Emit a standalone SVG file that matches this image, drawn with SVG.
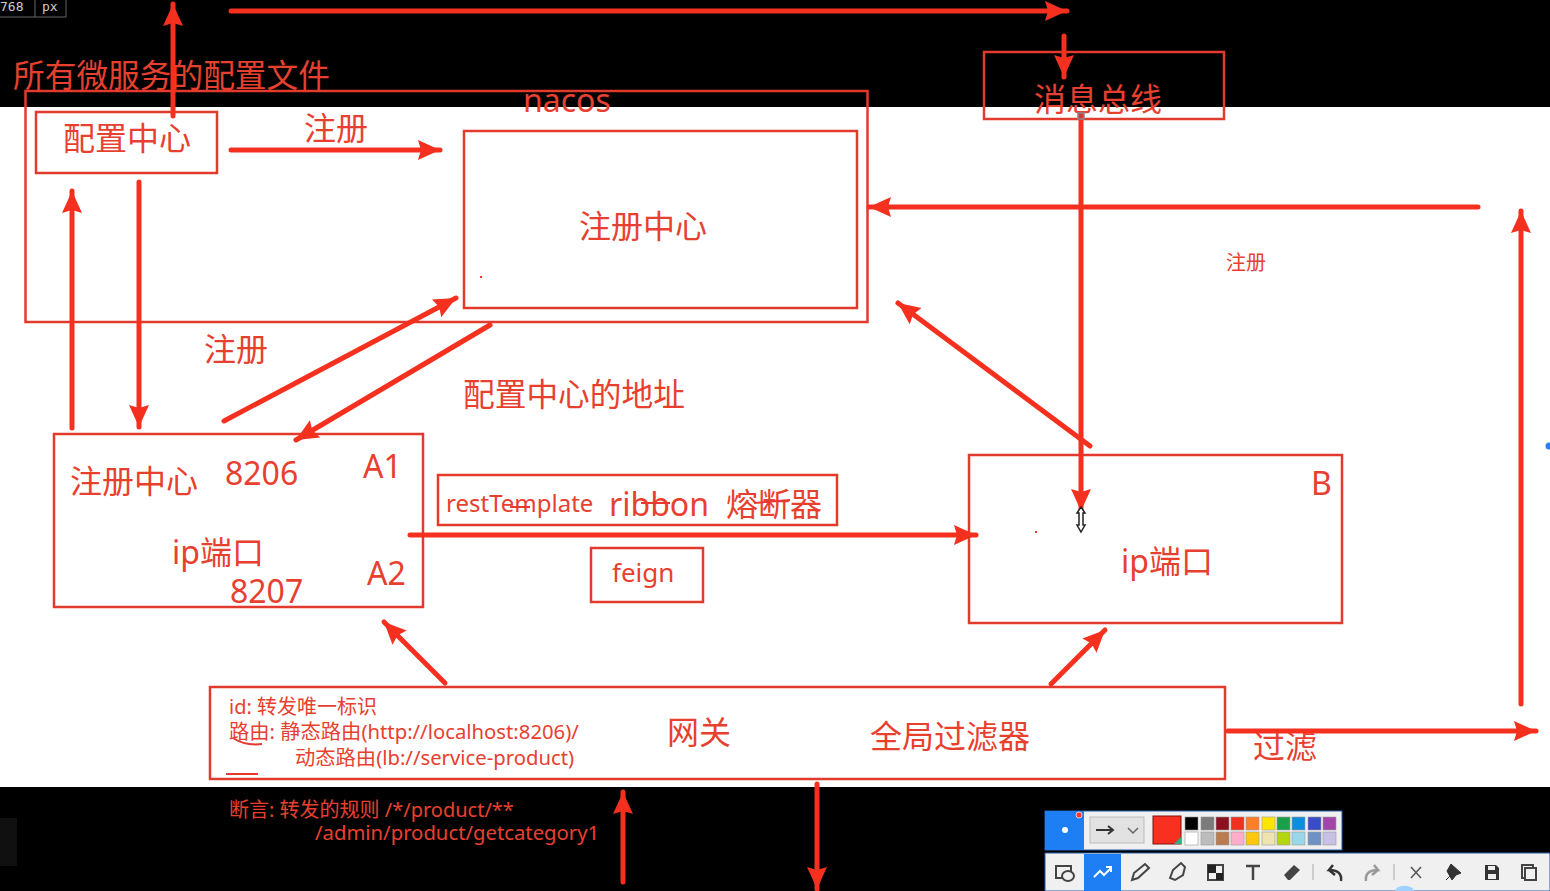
<svg xmlns="http://www.w3.org/2000/svg" width="1550" height="891" viewBox="0 0 1550 891">
<style>
text{font-family:"Noto Sans","Noto Sans CJK SC",sans-serif;fill:#e8402f}
.l{font-size:32px}.s{font-size:20px}.t{font-size:20.3px}
.box{fill:none;stroke:#e23b2e;stroke-width:2.5}
.arr{fill:none;stroke:#f5301f;stroke-width:5;stroke-linecap:round;marker-end:url(#ah)}
.ln{fill:none;stroke:#e8392f;stroke-width:2}
.ic{fill:none;stroke:#444;stroke-width:2}
</style>
<defs>
<marker id="ah" markerUnits="userSpaceOnUse" markerWidth="23" markerHeight="22" refX="22" refY="11" orient="auto" viewBox="0 0 23 22"><path d="M0,1 L22,11 L0,21 L3,11 Z" fill="#f5301f"/></marker>
</defs>
<rect id="background" width="1550" height="891" fill="#fff"/>
<rect x="0" y="0" width="1550" height="107" fill="#000"/>
<rect x="0" y="787" width="1550" height="104" fill="#000"/>
<rect x="0" y="818" width="17" height="48" fill="#101010"/>
<circle cx="1549" cy="446" r="3.500" fill="#2f80ed"/>

<g id="size-readout">
<rect x="-2" y="-2" width="68" height="19" fill="none" stroke="#666"/>
<line x1="35" y1="0" x2="35" y2="17" stroke="#666"/>
<text x="0" y="11" style="font-family:'DejaVu Sans Mono',monospace;font-size:13px;fill:#ccc">768</text>
<text x="42" y="11" style="font-family:'DejaVu Sans Mono',monospace;font-size:13px;fill:#ccc">px</text>
</g>

<g id="node-nacos"><rect class="box" x="25.500" y="91" width="842" height="231"/><text class="l" x="523" y="112">nacos</text></g>
<g id="node-allconfig"><text x="13" y="87" style="font-size:31.7px">所有微服务的配置文件</text></g>
<g id="node-config"><rect class="box" x="36" y="112" width="181" height="61"/><text class="l" x="63" y="150">配置中心</text></g>
<g id="node-registry"><rect class="box" x="464" y="131" width="393" height="177"/><text class="l" x="579" y="238">注册中心</text><rect x="480" y="276" width="2" height="2" fill="#e8392f"/></g>
<g id="node-bus"><rect class="box" x="984" y="52" width="240" height="67"/><text class="l" x="1034" y="111">消息总线</text></g>
<g id="node-a"><rect class="box" x="54" y="434" width="369" height="173"/>
<text class="l" x="70" y="493">注册中心</text><text class="l" x="225" y="485">8206</text><text class="l" x="363" y="478">A1</text>
<text class="l" x="172" y="564">ip端口</text><text class="l" x="230" y="603">8207</text><text class="l" x="367" y="585">A2</text></g>
<g id="node-rest"><rect class="box" x="438" y="475" width="399" height="50"/>
<text x="446" y="512" style="font-size:24px">restTemplate</text><text class="l" x="609" y="516">ribbon</text><text class="l" x="726" y="516">熔断器</text>
<path class="ln" d="M510,507 L530,507 M641,503 L670,503 M754,503 L790,500"/></g>
<g id="node-feign"><rect class="box" x="591" y="548" width="112" height="54"/><text x="612" y="582" style="font-size:26px">feign</text></g>
<g id="node-b"><rect class="box" x="969" y="455" width="373" height="168"/><text class="l" x="1311" y="495">B</text><text class="l" x="1121" y="573">ip端口</text><rect x="1035" y="531" width="2" height="2" fill="#e8392f"/></g>
<g id="node-gateway"><rect class="box" x="210" y="687" width="1015" height="92"/>
<text class="s" x="229" y="714">id: 转发唯一标识</text>
<text class="t" x="229" y="739">路由: 静态路由(http://localhost:8206)/</text>
<text class="t" x="295" y="765">动态路由(lb://service-product)</text>
<text class="l" x="667" y="744">网关</text><text class="l" x="870" y="748">全局过滤器</text>
<path class="ln" d="M233,738 Q245,746 262,744"/><line class="ln" x1="226" y1="774" x2="258" y2="774"/></g>

<g id="labels">
<text class="l" x="304" y="140">注册</text>
<text class="l" x="204" y="361">注册</text>
<text x="463" y="406" style="font-size:31.7px">配置中心的地址</text>
<text class="s" x="1226" y="270">注册</text>
<text class="l" x="1253" y="758">过滤</text>
<text class="s" x="229" y="817">断言: 转发的规则 /*/product/**</text>
<text class="t" x="315" y="840">/admin/product/getcategory1</text>
</g>

<g id="connectors">
<path class="arr" d="M173,116 L173,4"/>
<path class="arr" d="M231,11 L1067,11"/>
<path class="arr" d="M1064,36 L1064,77"/>
<path class="arr" d="M231,150 L440,150"/>
<path class="arr" d="M139,182 L139,427"/>
<path class="arr" d="M72,428 L72,191"/>
<path class="arr" d="M224,421 L456,298"/>
<path class="arr" d="M490,325 L296,440"/>
<path class="arr" d="M1478,207 L869,207"/>
<path class="arr" d="M1081,120 L1081,511"/>
<path class="arr" d="M1090,446 L898,303"/>
<path class="arr" d="M410,535 L976,535"/>
<path class="arr" d="M1521,704 L1521,211"/>
<path class="arr" d="M1228,731 L1536,731"/>
<path class="arr" d="M445,683 L384,622"/>
<path class="arr" d="M1051,684 L1105,630"/>
<path class="arr" d="M623,882 L623,792"/>
<path class="arr" d="M817,784 L817,889"/>
</g>
<g id="cursor"><path d="M1081,507 L1085,513 L1083,513 L1083,525 L1085,525 L1081,532 L1077,525 L1079,525 L1079,513 L1077,513 Z" fill="#fff" stroke="#222" stroke-width="1.500"/></g>
<rect x="1078" y="113" width="6" height="6" fill="#d33" stroke="#888" stroke-width="1.500"/>

<g id="toolbar">
<rect x="1045" y="811" width="297" height="39" fill="#f0f0f0" stroke="#2b5fa8"/>
<rect x="1045" y="811" width="39" height="39" fill="#1e7ff5"/>
<circle cx="1065" cy="830" r="3" fill="#fff"/><circle cx="1079" cy="815" r="3" fill="#f33" stroke="#fbb"/>
<rect x="1090" y="817" width="54" height="26" fill="#e2e2e2" stroke="#bbb"/>
<path d="M1096,830 H1112 M1108,826 L1113,830 L1108,834" fill="none" stroke="#333" stroke-width="2"/>
<path d="M1128,828 L1133,833 L1138,828" fill="none" stroke="#666" stroke-width="1.500"/>
<rect x="1153" y="816" width="28" height="28" fill="#f9301f" stroke="#7a1010"/>
<g stroke="#999" stroke-width="0.600">
<rect x="1185" y="817" width="13" height="13" fill="#000"/><rect x="1201" y="817" width="13" height="13" fill="#7b7b7b"/><rect x="1216" y="817" width="13" height="13" fill="#8b1020"/><rect x="1231" y="817" width="13" height="13" fill="#f03020"/><rect x="1246" y="817" width="13" height="13" fill="#fb7f26"/><rect x="1262" y="817" width="13" height="13" fill="#ffe600"/><rect x="1277" y="817" width="13" height="13" fill="#1aa04a"/><rect x="1292" y="817" width="13" height="13" fill="#0a8ee0"/><rect x="1308" y="817" width="13" height="13" fill="#3a4cc8"/><rect x="1323" y="817" width="13" height="13" fill="#a146a8"/>
<rect x="1185" y="832" width="13" height="13" fill="#fff"/><rect x="1201" y="832" width="13" height="13" fill="#bcbcbc"/><rect x="1216" y="832" width="13" height="13" fill="#b97c50"/><rect x="1231" y="832" width="13" height="13" fill="#ffadc8"/><rect x="1246" y="832" width="13" height="13" fill="#ffc60e"/><rect x="1262" y="832" width="13" height="13" fill="#efe4b0"/><rect x="1277" y="832" width="13" height="13" fill="#b5d60e"/><rect x="1292" y="832" width="13" height="13" fill="#98d8ea"/><rect x="1308" y="832" width="13" height="13" fill="#6f92c4"/><rect x="1323" y="832" width="13" height="13" fill="#c8bfe6"/>
</g>
<path d="M1174,844 L1181,837 L1181,844 Z" fill="#3a8"/>
<rect x="1045" y="853" width="505" height="38" fill="#f0f0f0" stroke="#2b5fa8"/>
<rect x="1084" y="854" width="37" height="37" fill="#1e7ff5"/>
<path d="M1094,877 L1100,871 L1104,875 L1111,868 M1106,867 H1111 V872" fill="none" stroke="#fff" stroke-width="2"/>
<rect class="ic" x="1056" y="866" width="15" height="12"/><ellipse class="ic" cx="1068" cy="876" rx="6" ry="5" style="fill:#f0f0f0"/>
<path class="ic" d="M1132,880 L1134,873 L1145,864 L1149,868 L1138,878 Z"/>
<path class="ic" d="M1170,878 L1173,870 L1181,863 L1185,867 L1183,875 L1175,880 Z"/>
<rect class="ic" x="1208" y="865" width="15" height="15"/><rect x="1208" y="865" width="8" height="8" fill="#222"/><rect x="1216" y="873" width="7" height="7" fill="#222"/>
<path d="M1246,866 H1260 M1253,866 V880" fill="none" stroke="#444" stroke-width="2.500"/>
<path d="M1284,875 L1294,865 L1300,870 L1290,880 L1288,880 Z" fill="#444"/>
<line x1="1313" y1="864" x2="1313" y2="880" stroke="#aaa"/>
<path d="M1341,881 C1342,873 1337,870 1329,870 L1333,865 M1329,870 L1335,875" fill="none" stroke="#333" stroke-width="2.500"/>
<path d="M1366,881 C1365,873 1370,870 1378,870 L1374,865 M1378,870 L1372,875" fill="none" stroke="#999" stroke-width="2.500"/>
<line x1="1394" y1="864" x2="1394" y2="880" stroke="#aaa"/>
<path d="M1411,867 L1421,878 M1421,867 L1411,878" fill="none" stroke="#555" stroke-width="1.500"/>
<path d="M1446,880 L1453,873 M1451,864 L1461,873 L1456,875 L1452,880 L1447,871 Z" fill="#333" stroke="#333"/>
<path d="M1485,865 H1496 L1499,868 V880 H1485 Z" fill="#333"/><rect x="1488" y="866" width="7" height="4" fill="#eee"/><rect x="1488" y="874" width="8" height="5" fill="#eee"/>
<rect class="ic" x="1522" y="865" width="11" height="13"/><rect class="ic" x="1525" y="868" width="11" height="12" style="fill:#f0f0f0"/>
<path d="M1395,891 A9,5 0 0 1 1414,891 Z" fill="#9fd0ff"/>
</g>
</svg>
